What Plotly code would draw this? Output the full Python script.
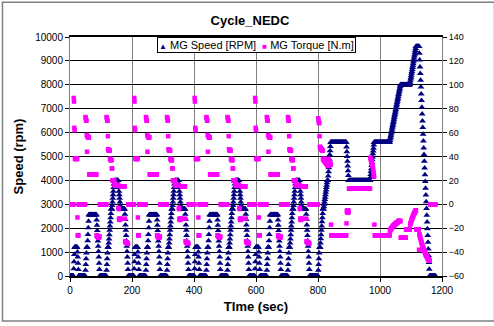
import plotly.graph_objects as go

# ECE urban cycle, one value per second (t = 0..194), repeated 4 times
ECE_RPM = [
    0, 0, 0, 0, 0, 0, 0, 0, 0, 0, 0, 0,
    300, 600, 900, 1200,
    1200, 1200, 1200, 1200, 1200, 1200, 1200, 1200,
    1000, 800, 530, 270, 0,
    0, 0, 0, 0, 0, 0, 0, 0, 0, 0, 0, 0, 0, 0, 0, 0, 0, 0, 0, 0, 0,
    240, 480, 720, 960, 1200,
    1200, 1200,
    1470, 1740, 2020, 2290, 2560,
    2560, 2560, 2560, 2560, 2560, 2560, 2560, 2560, 2560, 2560, 2560, 2560,
    2560, 2560, 2560, 2560, 2560, 2560, 2560, 2560, 2560, 2560, 2560, 2560,
    2340, 2120, 1900, 1680, 1460, 1240, 1020, 800, 530, 270, 0,
    0, 0, 0, 0, 0, 0, 0, 0, 0, 0, 0, 0, 0, 0, 0, 0, 0, 0, 0, 0, 0,
    240, 480, 720, 960, 1200,
    1200, 1200,
    1380, 1550, 1730, 1910, 2090, 2260, 2440, 2620, 2800,
    2800, 2800,
    2950, 3100, 3250, 3400, 3550, 3700, 3850, 4000,
    4000, 4000, 4000, 4000, 4000, 4000, 4000, 4000, 4000, 4000, 4000, 4000,
    3850, 3700, 3550, 3400, 3250, 3100, 2950, 2800,
    2800, 2800, 2800, 2800, 2800, 2800, 2800, 2800, 2800, 2800, 2800, 2800, 2800,
    2580, 2360, 2130, 1910, 1690, 1470, 1240, 1020, 800, 530, 270, 0,
    0, 0, 0, 0, 0, 0,
]

ECE_TORQUE = [
    0, 0, 0, 0, 0, 0, 0, 0, 0, 0, 0, 0,
    89, 86, 64, 62,
    38, 38, 38, 38, 38, 38, 38, 38,
    -11, -26, -26, -26, 0,
    0, 0, 0, 0, 0, 0, 0, 0, 0, 0, 0, 0, 0, 0, 0, 0, 0, 0, 0, 0, 0,
    73, 72, 70, 70, 58,
    44, 57,
    57, 56, 56, 56, 56,
    25, 25, 25, 25, 25, 25, 25, 25, 25, 25, 25, 25,
    25, 25, 25, 25, 25, 25, 25, 25, 25, 25, 25, 25,
    -26, -26, -27, -27, -27, -28, -28, -28, -27, -27, 0,
    0, 0, 0, 0, 0, 0, 0, 0, 0, 0, 0, 0, 0, 0, 0, 0, 0, 0, 0, 0, 0,
    73, 72, 70, 70, 57,
    46, 46,
    45, 45, 45, 45, 38, 38, 37, 37, 37,
    37, 30,
    30, 20, 20, 20, 20, 20, 20, 20,
    16, 16, 16, 16, 16, 16, 16, 16, 16, 16, 16, 16,
    -3, -4, -12, -13, -13, -13, -12, -12,
    15, 15, 15, 15, 15, 15, 15, 15, 15, 15, 15, 15, 15,
    -12, -31, -31, -32, -32, -32, -32, -32, -33, -33, -33, 0,
    0, 0, 0, 0, 0, 0,
]

# extra-urban part, one value per second (t = 0..399)
EUDC_RPM = [
    0, 0, 0, 0, 0, 0, 0, 0, 0, 0, 0, 0, 0, 0, 0, 0, 0, 0, 0, 0, 0,
    240, 480, 720, 960, 1200,
    1200, 1200,
    1380, 1560, 1730, 1910, 2090, 2270, 2440, 2620, 2800,
    2800, 2800,
    2900, 3000, 3100, 3200, 3300, 3400, 3500, 3600, 3700, 3800, 3900, 4000,
    4000, 4000,
    4180, 4360, 4530, 4710, 4890, 5070, 5240, 5420, 5600,
    5600, 5600, 5600, 5600, 5600, 5600, 5600, 5600, 5600, 5600,
    5600, 5600, 5600, 5600, 5600, 5600, 5600, 5600, 5600, 5600,
    5600, 5600, 5600, 5600, 5600, 5600, 5600, 5600, 5600, 5600,
    5600, 5600, 5600, 5600, 5600, 5600, 5600, 5600, 5600, 5600,
    5600, 5600, 5600, 5600, 5600, 5600, 5600, 5600, 5600, 5600,
    5400, 5200, 5000, 4800, 4600, 4400, 4200, 4000,
    4000, 4000, 4000, 4000, 4000, 4000, 4000, 4000, 4000, 4000,
    4000, 4000, 4000, 4000, 4000, 4000, 4000, 4000, 4000, 4000,
    4000, 4000, 4000, 4000, 4000, 4000, 4000, 4000, 4000, 4000,
    4000, 4000, 4000, 4000, 4000, 4000, 4000, 4000, 4000, 4000,
    4000, 4000, 4000, 4000, 4000, 4000, 4000, 4000, 4000, 4000,
    4000, 4000, 4000, 4000, 4000, 4000, 4000, 4000, 4000, 4000,
    4000, 4000, 4000, 4000, 4000, 4000, 4000, 4000, 4000,
    4120, 4250, 4370, 4490, 4620, 4740, 4860, 4980, 5110, 5230, 5350, 5480, 5600,
    5600, 5600, 5600, 5600, 5600, 5600, 5600, 5600, 5600, 5600,
    5600, 5600, 5600, 5600, 5600, 5600, 5600, 5600, 5600, 5600,
    5600, 5600, 5600, 5600, 5600, 5600, 5600, 5600, 5600, 5600,
    5600, 5600, 5600, 5600, 5600, 5600, 5600, 5600, 5600, 5600,
    5600, 5600, 5600, 5600, 5600, 5600, 5600, 5600, 5600, 5600,
    5670, 5740, 5810, 5870, 5940, 6010, 6080, 6150, 6220, 6290,
    6350, 6420, 6490, 6560, 6630, 6700, 6770, 6830, 6900, 6970,
    7040, 7110, 7180, 7250, 7310, 7380, 7450, 7520, 7590, 7660,
    7730, 7790, 7860, 7930, 8000,
    8000, 8000, 8000, 8000, 8000, 8000, 8000, 8000, 8000, 8000,
    8000, 8000, 8000, 8000, 8000, 8000, 8000, 8000, 8000, 8000,
    8000, 8000, 8000, 8000, 8000, 8000, 8000, 8000, 8000, 8000,
    8080, 8160, 8240, 8320, 8400, 8480, 8560, 8640, 8720, 8800,
    8880, 8960, 9040, 9120, 9200, 9280, 9360, 9440, 9520, 9600,
    9600, 9600, 9600, 9600, 9600, 9600, 9600, 9600, 9600, 9600,
    9320, 9040, 8750, 8470, 8190, 7910, 7620, 7340, 7060, 6780,
    6490, 6210, 5930, 5650, 5360, 5080, 4800, 4520, 4240, 3950,
    3670, 3390, 3110, 2820, 2540, 2260, 1980, 1690, 1410, 1130,
    850, 560, 280, 0,
    0, 0, 0, 0, 0, 0, 0, 0, 0, 0, 0, 0, 0, 0, 0, 0, 0, 0, 0,
]

EUDC_TORQUE = [
    0, 0, 0, 0, 0, 0, 0, 0, 0, 0, 0, 0, 0, 0, 0, 0, 0, 0, 0, 0, 0,
    72, 70, 68, 68, 57,
    48, 48,
    47, 47, 46, 46, 46, 45, 45, 45, 38,
    38, 37,
    37, 37, 36, 36, 36, 35, 35, 35, 34, 34, 33, 33,
    33, 32,
    38, 37, 37, 36, 36, 35, 35, 34, 33,
    -17, -26, -26, -26, -26, -26, -26, -26, -26, -26,
    -26, -26, -26, -26, -26, -26, -26, -26, -26, -26,
    -26, -26, -26, -26, -26, -26, -26, -26, -26, -26,
    -26, -26, -26, -26, -26, -26, -26, -26, -26, -26,
    -26, -26, -26, -26, -26, -26, -26, -26, -26, -26,
    -16, -6, -5, -7, -6, -5, -7, -6,
    13, 13, 13, 13, 13, 13, 13, 13, 13, 13,
    13, 13, 13, 13, 13, 13, 13, 13, 13, 13,
    13, 13, 13, 13, 13, 13, 13, 13, 13, 13,
    13, 13, 13, 13, 13, 13, 13, 13, 13, 13,
    13, 13, 13, 13, 13, 13, 13, 13, 13, 13,
    13, 13, 13, 13, 13, 13, 13, 13, 13, 13,
    13, 13, 13, 13, 13, 13, 13, 13, 13,
    39, 38, 37, 36, 35, 34, 33, 32, 31, 29, 27, 25, 23,
    -17, -26, -26, -26, -26, -26, -26, -26, -26, -26,
    -26, -26, -26, -26, -26, -26, -26, -26, -26, -26,
    -26, -26, -26, -26, -26, -26, -26, -26, -26, -26,
    -26, -26, -26, -26, -26, -26, -26, -26, -26, -26,
    -26, -26, -26, -26, -26, -26, -26, -26, -26, -26,
    -22, -22, -21, -21, -20, -20, -20, -19, -19, -19,
    -18, -18, -18, -18, -17, -17, -17, -17, -16, -16,
    -16, -16, -15, -15, -15, -15, -15, -14, -14, -14,
    -14, -14, -14, -14, -14,
    -28, -28, -28, -28, -28, -28, -28, -28, -28, -28,
    -28, -28, -28, -28, -28, -28, -28, -21, -21, -21,
    -21, -21, -21, -21, -21, -21, -21, -21, -21, -21,
    -17, -16, -16, -15, -14, -13, -12, -12, -11, -10,
    -10, -9, -8, -8, -7, -7, -6, -6, -5, -5,
    -21, -21, -21, -21, -21, -21, -21, -21, -21, -38,
    -25, -26, -27, -28, -29, -30, -31, -32, -33, -34,
    -35, -35, -36, -37, -38, -38, -39, -40, -40, -41,
    -42, -42, -43, -43, -44, -44, -45, -45, -46, -46,
    -46, -47, -47, -47,
    0, 0, 0, 0, 0, 0, 0, 0, 0, 0, 0, 0, 0, 0, 0, 0, 0, 0, 0,
]

ECE_STARTS = [0, 195, 390, 585]
EUDC_START = 780

assert len(ECE_RPM) == 195 and len(ECE_TORQUE) == 195
assert len(EUDC_RPM) == 400 and len(EUDC_TORQUE) == 400

time, speed, torque = [], [], []
for start in ECE_STARTS:
    time += [start + i for i in range(len(ECE_RPM))]
    speed += ECE_RPM
    torque += ECE_TORQUE
time += [EUDC_START + i for i in range(len(EUDC_RPM))]
speed += EUDC_RPM
torque += EUDC_TORQUE

FONT = "Arial, Liberation Sans, sans-serif"
NAVY = "#000080"
MAGENTA = "#FF00FF"

fig = go.Figure()
fig.add_trace(
    go.Scatter(
        x=time, y=speed, mode="markers", name="MG Speed [RPM]",
        marker=dict(symbol="triangle-up", size=6, color=NAVY),
    )
)
fig.add_trace(
    go.Scatter(
        x=time, y=torque, mode="markers", name="MG Torque [N.m]", yaxis="y2",
        marker=dict(symbol="square", size=4.5, color=MAGENTA),
    )
)

fig.update_layout(
    template="none",
    width=494,
    height=326,
    margin=dict(l=70, r=52, t=37, b=50),
    paper_bgcolor="white",
    plot_bgcolor="white",
    font=dict(family=FONT, color="black"),
    showlegend=False,
    hovermode=False,
    title=dict(
        text="<b>Cycle_NEDC</b>", font=dict(size=13),
        x=0.506, xref="container", xanchor="center",
        y=0.936, yref="container", yanchor="middle",
    ),
    xaxis=dict(
        range=[0, 1200], dtick=200, showgrid=True, gridcolor="#808080",
        gridwidth=1, zeroline=False, showline=True, linecolor="black",
        linewidth=1.5, mirror=True, ticks="outside", ticklen=4,
        tickcolor="black", tickfont=dict(size=10), automargin=False,
        title=dict(text="<b>TIme (sec)</b>", font=dict(size=13), standoff=7),
    ),
    yaxis=dict(
        range=[0, 10000], dtick=1000, tickformat="d", showgrid=True,
        gridcolor="black", gridwidth=1, zeroline=False, showline=True,
        linecolor="#808080", ticks="outside", ticklen=4, tickcolor="black",
        tickfont=dict(size=10), automargin=False,
        title=dict(text="<b>Speed (rpm)</b>", font=dict(size=13), standoff=8),
    ),
    yaxis2=dict(
        range=[-60, 140], dtick=20, overlaying="y", side="right",
        showgrid=False, zeroline=False, showline=True, linecolor="#808080",
        ticks="outside", ticklen=4, tickcolor="black",
        tickfont=dict(size=9), automargin=False,
    ),
)

# legend box drawn as a boxed annotation (compact, like the original)
fig.add_annotation(
    text=(f'<span style="color:{NAVY};font-size:8px">▲</span> MG Speed [RPM]'
          f'  <span style="color:{MAGENTA};font-size:8px">■</span> MG Torque [N.m]'),
    xref="paper", yref="paper", x=0.234, y=1, xanchor="left", yanchor="top",
    showarrow=False, font=dict(size=11), bgcolor="white",
    bordercolor="black", borderwidth=1, borderpad=1,
)

# outer chart frame
fig.add_shape(
    type="rect", xref="paper", yref="paper",
    x0=-0.1815, x1=1.1411, y0=-0.1885, y1=1.1458,
    line=dict(color="#808080", width=1.5),
)

# drop the browser's default page margin so the figure sits at (0, 0)
fig.write_html(
    "out.html",
    config={"displayModeBar": False},
    post_script="document.body.style.margin = '0';",
)
